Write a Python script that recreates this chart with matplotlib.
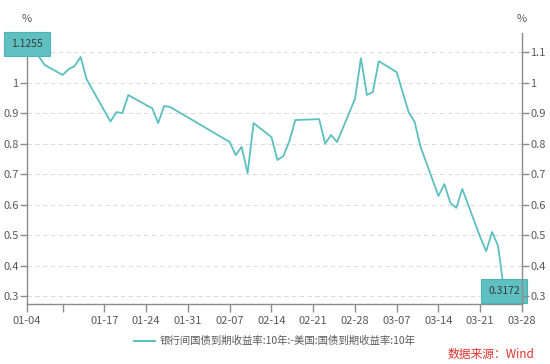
import numpy as np
import pandas as pd
import matplotlib
matplotlib.use("Agg")
import matplotlib.pyplot as plt
import matplotlib.dates as mdates
from matplotlib.ticker import FuncFormatter

plt.rcParams['font.family'] = ['Noto Sans CJK SC', 'DejaVu Sans']

# China 10Y minus US 10Y treasury yield, 2022
dates = ["01-04", "01-05", "01-06", "01-07", "01-10", "01-11", "01-12", "01-13",
         "01-14", "01-18", "01-19", "01-20", "01-21", "01-24", "01-25", "01-26",
         "01-27", "01-28", "02-07", "02-08", "02-09", "02-10", "02-11", "02-14",
         "02-15", "02-16", "02-17", "02-18", "02-22", "02-23", "02-24", "02-25",
         "02-28", "03-01", "03-02", "03-03", "03-04", "03-07", "03-08", "03-09",
         "03-10", "03-11", "03-14", "03-15", "03-16", "03-17", "03-18", "03-21",
         "03-22", "03-23", "03-24", "03-25"]
spread = [1.1255, 1.110, 1.085, 1.057, 1.025, 1.044, 1.054, 1.084,
          1.011, 0.872, 0.903, 0.900, 0.959, 0.926, 0.916, 0.867,
          0.923, 0.920, 0.805, 0.762, 0.789, 0.703, 0.867, 0.821,
          0.746, 0.759, 0.808, 0.877, 0.880, 0.800, 0.828, 0.805,
          0.946, 1.080, 0.959, 0.969, 1.070, 1.034, 0.968, 0.903,
          0.871, 0.789, 0.628, 0.667, 0.605, 0.589, 0.651, 0.493,
          0.447, 0.510, 0.464, 0.3172]
tick_dates = ["01-04", "01-10", "01-17", "01-24", "01-31", "02-07", "02-14",
              "02-21", "02-28", "03-07", "03-14", "03-21", "03-28"]
tick_labels = ["01-04", "", "01-17", "01-24", "01-31", "02-07", "02-14",
               "02-21", "02-28", "03-07", "03-14", "03-21", "03-28"]
yticks = [0.3, 0.4, 0.5, 0.6, 0.7, 0.8, 0.9, 1.0, 1.1]
legend_label = "银行间国债到期收益率:10年:-美国:国债到期收益率:10年"

x = pd.to_datetime(["2022-" + d for d in dates])
xt = pd.to_datetime(["2022-" + d for d in tick_dates])

line_color = "#5cc0c0"
axis_color = "#8c8c8c"
text_color = "#595959"

fig = plt.figure(figsize=(5.5, 3.64), dpi=100)
ax = fig.add_axes([0.049, 0.165, 0.9, 0.744])

ax.plot(x, spread, color=line_color, lw=1.3)
ax.set_xlim(xt[0], xt[-1])
ax.set_ylim(0.274, 1.162)

fmt = FuncFormatter(lambda v, p: "%g" % round(v, 2))
ax.set_yticks(yticks)
ax.yaxis.set_major_formatter(fmt)
ax.set_xticks(xt)
ax.set_xticklabels(tick_labels)

for y in yticks:
    ax.axhline(y, color="#dcdcdc", lw=0.8, ls=(0, (4, 3)), zorder=0)

ax2 = ax.twinx()
ax2.set_ylim(ax.get_ylim())
ax2.set_yticks(yticks)
ax2.yaxis.set_major_formatter(fmt)

for a in (ax, ax2):
    for s in a.spines.values():
        s.set_visible(False)
    a.tick_params(colors=axis_color, labelcolor=text_color, labelsize=8,
                  length=5, width=1, pad=1)
ax.spines["left"].set_visible(True)
ax.spines["bottom"].set_visible(True)
ax2.spines["right"].set_visible(True)
for s in (ax.spines["left"], ax.spines["bottom"], ax2.spines["right"]):
    s.set_color(axis_color)
    s.set_linewidth(1)
ax.tick_params(axis="x", length=6, pad=3)

# unit labels
fig.text(0.049, 0.948, "%", ha="center", va="center", fontsize=8, color=text_color)
fig.text(0.949, 0.948, "%", ha="center", va="center", fontsize=8, color=text_color)

# value boxes on first and last points
box = dict(boxstyle="square,pad=0.65", fc="#5ec0c0", ec="#4fb3b3", lw=0.8)
for i in (0, -1):
    ax.annotate("%.4f" % spread[i], (x[i], spread[i]), ha="center", va="center",
                fontsize=7.5, color="#3a3a3a", bbox=box, annotation_clip=False,
                zorder=5)

# legend
fig.legend([plt.Line2D([], [], color=line_color, lw=1.5)], [legend_label],
           loc="center", bbox_to_anchor=(0.5, 0.063), frameon=False,
           fontsize=7.5, handlelength=2.0, handletextpad=0.5,
           labelcolor=text_color)

fig.text(0.972, 0.025, "数据来源：Wind", ha="right", va="center",
         fontsize=8.5, color="#e0302c")

fig.savefig("out.png", dpi=100)
